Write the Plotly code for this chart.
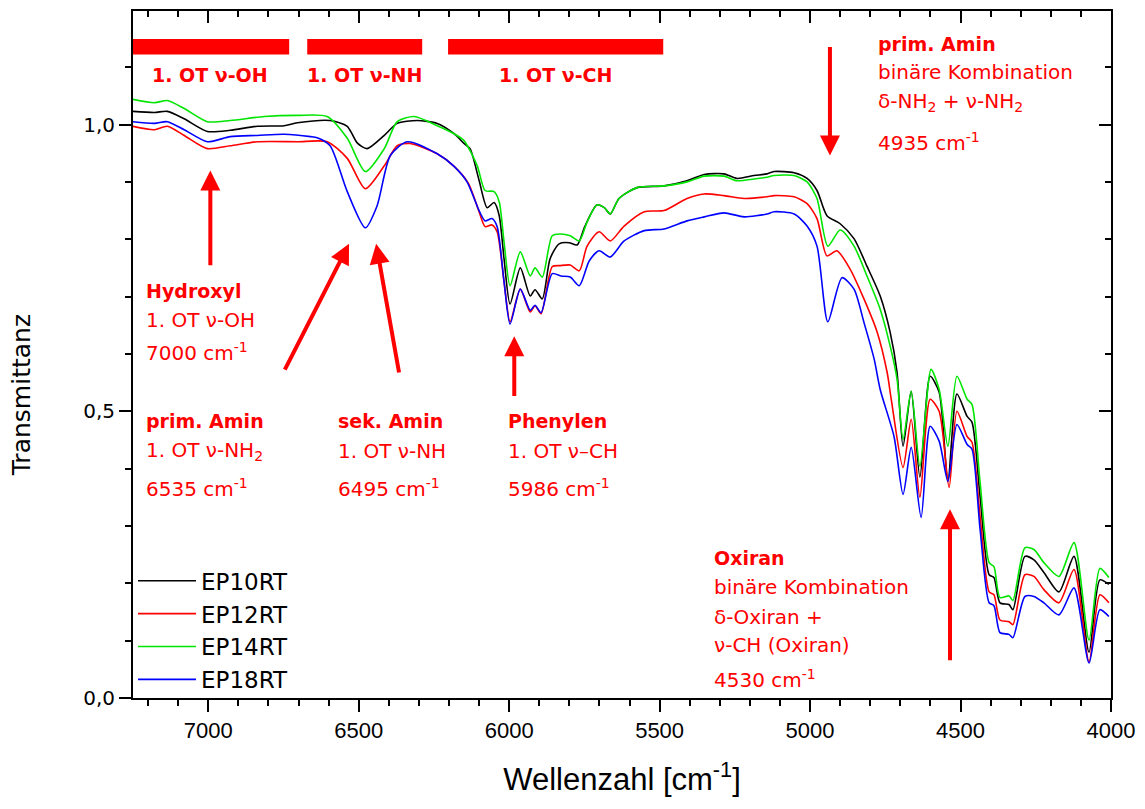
import plotly.graph_objects as go

# ---------------- data ----------------
ep10_wn = [7252, 7179, 7136, 7080, 7003, 6927, 6837, 6748, 6704, 6595, 6538, 6505, 6472, 6415, 6372, 6306,
           6239, 6183, 6150, 6130, 6100, 6073, 6050, 6033, 6017, 5997, 5963, 5930, 5914, 5890, 5864, 5834,
           5801, 5774, 5748, 5708, 5684, 5664, 5635, 5575, 5485, 5409, 5352, 5286, 5243, 5186, 5143, 5120,
           5053, 5010, 4977, 4944, 4900, 4854, 4811, 4767, 4734, 4711, 4691, 4664, 4635, 4601, 4571, 4542,
           4512, 4478, 4462, 4435, 4405, 4389, 4369, 4339, 4326, 4286, 4256, 4223, 4173, 4123, 4073, 4037, 4007]
ep10_t = [1.023, 1.021, 1.023, 1.010, 0.988, 0.990, 0.997, 0.998, 1.003, 1.007, 0.997, 0.968, 0.958, 0.981, 1.002, 1.007,
          1.002, 0.984, 0.967, 0.958, 0.903, 0.855, 0.864, 0.841, 0.766, 0.687, 0.750, 0.701, 0.712, 0.696, 0.766, 0.792,
          0.794, 0.790, 0.823, 0.860, 0.855, 0.844, 0.871, 0.890, 0.893, 0.902, 0.913, 0.914, 0.906, 0.911, 0.914, 0.918,
          0.916, 0.906, 0.885, 0.841, 0.827, 0.801, 0.753, 0.701, 0.638, 0.568, 0.439, 0.535, 0.385, 0.561, 0.533, 0.378,
          0.530, 0.491, 0.481, 0.351, 0.215, 0.210, 0.166, 0.163, 0.154, 0.247, 0.241, 0.219, 0.185, 0.247, 0.080, 0.206, 0.198]

ep12_wn = [7252, 7179, 7136, 7080, 7003, 6927, 6837, 6704, 6605, 6538, 6478, 6415, 6372, 6329, 6239, 6183,
           6135, 6100, 6080, 6057, 6040, 6017, 5997, 5963, 5930, 5914, 5894, 5857, 5831, 5797, 5767, 5741,
           5701, 5664, 5618, 5551, 5485, 5409, 5352, 5286, 5219, 5143, 5120, 5053, 5010, 4977, 4944, 4911,
           4867, 4821, 4777, 4744, 4730, 4691, 4664, 4635, 4601, 4571, 4538, 4512, 4478, 4462, 4435, 4405,
           4389, 4369, 4339, 4326, 4286, 4256, 4223, 4173, 4123, 4073, 4037, 4007]
ep12_t = [0.997, 0.991, 0.997, 0.981, 0.958, 0.963, 0.970, 0.970, 0.970, 0.941, 0.888, 0.928, 0.963, 0.967, 0.949, 0.927,
          0.897, 0.848, 0.822, 0.825, 0.813, 0.726, 0.656, 0.713, 0.673, 0.684, 0.670, 0.752, 0.754, 0.755, 0.745, 0.788,
          0.813, 0.797, 0.823, 0.848, 0.850, 0.871, 0.879, 0.876, 0.871, 0.874, 0.876, 0.874, 0.862, 0.836, 0.771, 0.780,
          0.748, 0.696, 0.638, 0.568, 0.520, 0.402, 0.486, 0.350, 0.521, 0.500, 0.367, 0.500, 0.456, 0.446, 0.316, 0.185,
          0.180, 0.136, 0.133, 0.128, 0.215, 0.212, 0.189, 0.166, 0.224, 0.063, 0.180, 0.166]

ep14_wn = [7252, 7179, 7136, 7080, 7003, 6927, 6814, 6704, 6605, 6538, 6478, 6415, 6372, 6316, 6239, 6183,
           6150, 6106, 6080, 6050, 6033, 6017, 5997, 5963, 5930, 5914, 5890, 5857, 5831, 5797, 5767, 5741,
           5708, 5684, 5664, 5635, 5575, 5485, 5409, 5352, 5286, 5243, 5186, 5143, 5120, 5053, 5010, 4977,
           4941, 4900, 4854, 4811, 4767, 4734, 4711, 4691, 4664, 4635, 4598, 4571, 4542, 4512, 4478, 4462,
           4435, 4405, 4389, 4369, 4339, 4326, 4286, 4256, 4223, 4173, 4123, 4073, 4037, 4007]
ep14_t = [1.044, 1.038, 1.042, 1.028, 1.005, 1.007, 1.014, 1.016, 1.014, 0.976, 0.918, 0.958, 1.005, 1.014, 0.998, 0.984,
          0.972, 0.928, 0.885, 0.883, 0.865, 0.795, 0.719, 0.778, 0.736, 0.750, 0.734, 0.806, 0.809, 0.806, 0.797, 0.830,
          0.860, 0.855, 0.844, 0.871, 0.890, 0.893, 0.900, 0.910, 0.910, 0.902, 0.905, 0.908, 0.911, 0.911, 0.900, 0.871,
          0.788, 0.816, 0.788, 0.736, 0.678, 0.614, 0.556, 0.451, 0.535, 0.404, 0.573, 0.538, 0.439, 0.561, 0.521, 0.512,
          0.376, 0.236, 0.229, 0.175, 0.178, 0.170, 0.262, 0.259, 0.236, 0.212, 0.271, 0.101, 0.226, 0.210]

ep18_wn = [7252, 7179, 7136, 7080, 7003, 6927, 6837, 6748, 6660, 6638, 6595, 6538, 6478, 6439, 6395, 6339,
           6239, 6183, 6140, 6100, 6080, 6057, 6040, 6017, 5997, 5963, 5930, 5914, 5894, 5857, 5827, 5797,
           5767, 5734, 5701, 5664, 5618, 5551, 5485, 5409, 5352, 5286, 5219, 5143, 5120, 5053, 5010, 4977,
           4941, 4894, 4854, 4821, 4787, 4767, 4721, 4691, 4664, 4631, 4601, 4571, 4542, 4512, 4478, 4462,
           4435, 4405, 4389, 4369, 4339, 4326, 4286, 4256, 4223, 4173, 4123, 4073, 4037, 4007]
ep18_t = [1.005, 1.002, 1.005, 0.991, 0.970, 0.979, 0.981, 0.983, 0.979, 0.977, 0.963, 0.883, 0.820, 0.858, 0.946, 0.970,
          0.949, 0.927, 0.900, 0.850, 0.832, 0.836, 0.822, 0.726, 0.652, 0.713, 0.676, 0.685, 0.672, 0.740, 0.736, 0.734,
          0.719, 0.762, 0.780, 0.769, 0.797, 0.815, 0.818, 0.832, 0.839, 0.846, 0.839, 0.844, 0.848, 0.844, 0.823, 0.788,
          0.656, 0.733, 0.713, 0.655, 0.591, 0.538, 0.456, 0.355, 0.437, 0.315, 0.474, 0.448, 0.378, 0.477, 0.442, 0.434,
          0.294, 0.166, 0.161, 0.114, 0.111, 0.105, 0.177, 0.177, 0.166, 0.145, 0.192, 0.061, 0.154, 0.142]

series_names = ["EP10RT", "EP12RT", "EP14RT", "EP18RT"]
series_colors = ["#000000", "#ff0000", "#00e600", "#0000ff"]

y_tickvals = [0.0, 0.5, 1.0]
y_ticktext = ["0,0", "0,5", "1,0"]
x_tickvals = [7000, 6500, 6000, 5500, 5000, 4500, 4000]

band_labels = ["1. OT \u03bd-OH", "1. OT \u03bd-NH", "1. OT \u03bd-CH"]
band_ranges = [(7252, 6731), (6671, 6289), (6203, 5488)]
band_label_pos = [6993, 6482, 5847]

# annotation text blocks: (x wavenumber, [(text, bold, y), ...])
text_blocks = [
    (7213, [("Hydroxyl", True, 0.710), ("1. OT \u03bd-OH", False, 0.659), ("7000 cm<sup>-1</sup>", False, 0.603)]),
    (7213, [("prim. Amin", True, 0.483), ("1. OT \u03bd-NH<sub>2</sub>", False, 0.430), ("6535 cm<sup>-1</sup>", False, 0.367)]),
    (6575, [("sek. Amin", True, 0.483), ("1. OT \u03bd-NH", False, 0.430), ("6495 cm<sup>-1</sup>", False, 0.367)]),
    (6010, [("Phenylen", True, 0.483), ("1. OT \u03bd\u2013CH", False, 0.430), ("5986 cm<sup>-1</sup>", False, 0.367)]),
    (4781, [("prim. Amin", True, 1.140), ("bin\u00e4re Kombination", False, 1.091),
            ("\u03b4-NH<sub>2</sub> + \u03bd-NH<sub>2</sub>", False, 1.040), ("4935 cm<sup>-1</sup>", False, 0.969)]),
    (5326, [("Oxiran", True, 0.245), ("bin\u00e4re Kombination", False, 0.194), ("\u03b4-Oxiran +", False, 0.142),
            ("\u03bd-CH (Oxiran)", False, 0.093), ("4530 cm<sup>-1</sup>", False, 0.033)]),
]

# arrows: (tip_x, tip_y, tail_x, tail_y)
arrows = [
    (6993, 0.920, 6993, 0.752),
    (6532, 0.792, 6748, 0.570),
    (6442, 0.792, 6365, 0.565),
    (5983, 0.631, 5983, 0.524),
    (4934, 0.946, 4934, 1.138),
    (4535, 0.329, 4535, 0.063),
]

# ---------------- figure ----------------
fig = go.Figure()
for name, color, xs, ys in zip(series_names, series_colors,
                               [ep10_wn, ep12_wn, ep14_wn, ep18_wn],
                               [ep10_t, ep12_t, ep14_t, ep18_t]):
    fig.add_trace(go.Scatter(x=xs, y=ys, mode="lines", name=name,
                             line=dict(color=color, width=1.6, shape="spline", smoothing=0.7)))

# empty trace so that the mirrored top/right axes are drawn
fig.add_trace(go.Scatter(x=[None], y=[None], xaxis="x2", yaxis="y2", showlegend=False, hoverinfo="skip"))

ANN_FONT = "DejaVu Sans, Liberation Sans, Arial, sans-serif"
annotations = []
shapes = []
for (x0, x1), lab, lx in zip(band_ranges, band_labels, band_label_pos):
    shapes.append(dict(type="rect", xref="x", yref="y", x0=x0, x1=x1, y0=1.122, y1=1.149,
                       fillcolor="#ff0000", line=dict(width=0)))
    annotations.append(dict(x=lx, y=1.086, xref="x", yref="y", text="<b>%s</b>" % lab, showarrow=False,
                            xanchor="center", yanchor="middle", font=dict(family=ANN_FONT, size=19, color="#ff0000")))

for bx, lines in text_blocks:
    for txt, bold, yy in lines:
        annotations.append(dict(x=bx, y=yy, xref="x", yref="y", text=("<b>%s</b>" % txt) if bold else txt,
                                showarrow=False, xanchor="left", yanchor="middle",
                                font=dict(family=ANN_FONT, size=19 if bold else 20, color="#ff0000")))

for tx, ty, ax, ay in arrows:
    annotations.append(dict(x=tx, y=ty, ax=ax, ay=ay, xref="x", yref="y", axref="x", ayref="y",
                            text="", showarrow=True, arrowhead=2, arrowsize=1.0, arrowwidth=4,
                            arrowcolor="#ff0000", standoff=0, startstandoff=0))

annotations.append(dict(x=-0.114, y=0.44, xref="paper", yref="paper", text="Transmittanz", textangle=-90,
                        showarrow=False, xanchor="center", yanchor="middle",
                        font=dict(family=ANN_FONT, size=25, color="#000000")))

fig.update_layout(
    width=1137, height=801,
    margin=dict(l=125, r=34, t=3, b=111, autoexpand=False),
    plot_bgcolor="white", paper_bgcolor="white",
    showlegend=True,
    legend=dict(x=0.0, y=0.202, xanchor="left", yanchor="top", bgcolor="rgba(0,0,0,0)",
                font=dict(family=ANN_FONT, size=23, color="#000000"), itemwidth=58, tracegroupgap=0),
    annotations=annotations,
    shapes=shapes,
    xaxis=dict(range=[7250, 4000], autorange=False, tickvals=x_tickvals, ticks="outside", ticklen=12, tickwidth=2,
               tickcolor="black", showline=True, linewidth=2, linecolor="black", showgrid=False, zeroline=False,
               automargin=False,
               tickfont=dict(family="Liberation Sans Narrow, Liberation Sans, Arial, sans-serif", size=22, color="black"),
               minor=dict(dtick=100, tick0=4000, ticks="outside", ticklen=6, tickwidth=2, tickcolor="black", showgrid=False),
               title=dict(text="Wellenzahl [cm<sup>-1</sup>]", standoff=26,
                          font=dict(family="Liberation Sans, Arial, sans-serif", size=31, color="black"))),
    yaxis=dict(range=[0, 1.198], autorange=False, tickvals=y_tickvals, ticktext=y_ticktext, ticks="outside", ticklen=12,
               tickwidth=2, tickcolor="black", showline=True, linewidth=2, linecolor="black", showgrid=False,
               zeroline=False, automargin=False,
               tickfont=dict(family=ANN_FONT, size=20, color="black"),
               minor=dict(dtick=0.1, tick0=0, ticks="outside", ticklen=6, tickwidth=2, tickcolor="black", showgrid=False)),
    xaxis2=dict(overlaying="x", side="top", anchor="y", range=[7250, 4000], autorange=False, tickvals=x_tickvals,
                ticks="inside", ticklen=12, tickwidth=2, tickcolor="black", showticklabels=False, showline=True,
                linewidth=2, linecolor="black", showgrid=False, zeroline=False, automargin=False,
                minor=dict(dtick=100, tick0=4000, ticks="inside", ticklen=6, tickwidth=2, tickcolor="black", showgrid=False)),
    yaxis2=dict(overlaying="y", side="right", anchor="x", range=[0, 1.198], autorange=False, tickvals=y_tickvals,
                ticks="inside", ticklen=12, tickwidth=2, tickcolor="black", showticklabels=False, showline=True,
                linewidth=2, linecolor="black", showgrid=False, zeroline=False, automargin=False,
                minor=dict(dtick=0.1, tick0=0, ticks="inside", ticklen=6, tickwidth=2, tickcolor="black", showgrid=False)),
)

fig.write_html("out.html")
